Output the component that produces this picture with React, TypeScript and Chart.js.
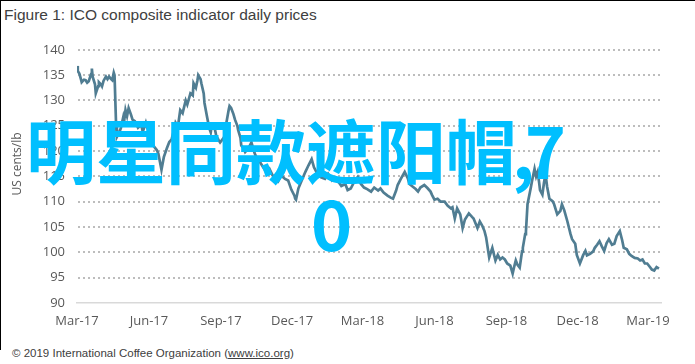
import React, { useEffect, useRef } from "react";
import { Chart, registerables } from "chart.js";

Chart.register(...registerables);

const chartTitle = "Figure 1: ICO composite indicator daily prices";
const yAxisTitle = "US cents/lb";
const footerPrefix = "© 2019 International Coffee Organization (";
const footerLink = "www.ico.org";
const footerSuffix = ")";
const overlayLine1 = "明星同款遮阳帽,7";
const overlayLine2 = "0";

// days since 1 Mar 2017
const tickDays = [0, 92, 184, 275, 365, 457, 549, 640, 730];
const tickLabels = ["Mar-17", "Jun-17", "Sep-17", "Dec-17", "Mar-18", "Jun-18", "Sep-18", "Dec-18", "Mar-19"];
const yMin = 90;
const yMax = 140;
const yStep = 5;

const days = [
  0, 1, 3, 5, 6, 9, 11, 13, 15, 18, 19, 20, 23, 24, 27, 28, 31, 32, 34, 37, 39, 41, 43, 45, 47, 48,
  50, 51, 54, 56, 59, 60, 62, 64, 66, 69, 71, 74, 75, 78, 82, 84, 85, 88, 90, 92, 94, 98, 102, 104,
  108, 111, 115, 118, 121, 124, 126, 129, 132, 135, 139, 141, 145, 148, 149, 152, 154, 155, 158, 159,
  162, 163, 166, 169, 171, 172, 175, 177, 178, 181, 183, 186, 188, 190, 191, 194, 195, 197, 200, 202,
  205, 206, 209, 210, 213, 215, 219, 223, 227, 231, 234, 238, 242, 246, 250, 254, 257, 261, 266, 270,
  274, 278, 279, 280, 283, 287, 292, 296, 300, 303, 308, 312, 317, 321, 326, 330, 334, 338, 343, 346,
  350, 354, 359, 363, 367, 371, 376, 380, 385, 388, 392, 397, 401, 404, 408, 410, 414, 419, 423, 425,
  429, 433, 436, 439, 444, 448, 452, 454, 457, 461, 465, 470, 474, 478, 480, 483, 486, 490, 493, 496,
  501, 505, 507, 512, 515, 518, 521, 523, 527, 531, 535, 538, 541, 544, 547, 550, 554, 557, 559, 561,
  563, 566, 569, 570, 573, 574, 576, 580, 582, 585, 587, 589, 591, 592, 595, 597, 599, 601, 604, 608,
  610, 614, 618, 620, 623, 627, 631, 633, 637, 639, 643, 647, 650, 652, 656, 660, 662, 665, 668, 671,
  674, 677, 680, 684, 687, 690, 694, 697, 699, 703, 706, 709, 713, 717, 720, 723, 726, 729, 732, 735,
  738, 741, 744,
];

const prices = [
  136.8, 135.8, 135.3, 134.2, 133.6, 134.1, 134.0, 133.5, 133.8, 135.2, 136.3, 134.7, 133.2, 131.4, 132.8, 133.6, 133.1, 132.8, 133.9, 134.7, 134.2, 134.7, 134.3, 134.0, 135.5, 135.0,
  125.0, 122.8, 123.7, 124.5, 126.6, 125.6, 128.1, 126.9, 128.5, 127.2, 126.2, 125.9, 125.6, 124.6, 125.2, 123.9, 124.2, 125.6, 124.5, 124.0, 122.3, 121.0, 120.2, 119.5,
  116.3, 118.8, 120.6, 121.8, 122.3, 124.2, 125.6, 124.8, 128.1, 127.5, 130.0, 129.2, 131.4, 131.0, 133.4, 132.5, 134.0, 135.0, 134.2, 133.4,
  131.4, 129.5, 127.0, 124.6, 123.7, 124.8, 125.2, 123.8, 123.0, 122.2, 121.7, 122.3, 122.7, 124.6, 125.6, 128.2, 128.9, 128.5, 127.3, 126.2,
  125.0, 124.2, 122.6, 121.1, 120.5, 119.8, 120.5, 121.7, 119.6, 118.2, 117.8, 116.8, 115.9, 116.5, 115.2, 114.3, 114.0, 115.2, 114.5, 114.2,
  112.4, 111.2, 110.6, 110.4, 112.6, 114.1, 115.9, 117.2, 118.4, 116.8, 115.3, 114.8, 114.5, 115.5, 114.2, 114.8, 114.0, 113.1, 113.5, 112.3,
  112.6, 113.8, 114.9, 113.5, 112.8, 112.5, 112.0, 112.8, 112.2, 112.6, 111.8, 111.2, 110.8, 110.6, 112.2, 113.3, 114.5, 115.9, 114.6, 113.5,
  113.0, 112.5, 112.0, 112.8, 113.3, 112.7, 112.0, 111.3, 110.4, 110.6, 110.0, 110.0, 109.2, 108.7, 108.9, 106.7, 108.7, 107.5, 104.8, 106.5,
  107.7, 107.0, 106.7, 104.8, 106.1, 105.3, 104.2, 103.0, 99.0, 100.9, 98.4, 99.5, 98.6, 99.0, 98.6, 97.8, 97.4, 95.8, 97.2, 98.4,
  97.6, 97.0, 100.2, 100.9, 103.6, 104.2, 109.5, 112.6, 114.3, 116.5, 115.0, 115.9, 113.6, 112.3, 111.4, 113.7, 115.5, 113.0, 110.6, 110.1,
  109.5, 107.5, 108.2, 109.5, 108.3, 106.1, 103.6, 102.6, 101.7, 99.5, 97.8, 99.4, 100.3, 99.4, 99.7, 100.2, 100.9, 101.5, 102.2, 101.2,
  100.3, 101.8, 102.6, 101.5, 101.7, 103.2, 104.2, 102.4, 100.9, 100.6, 99.7, 99.3, 98.9, 98.8, 98.4, 98.6, 97.8, 97.8, 97.2, 96.6,
  96.4, 97.1, 96.8,
];

const dottedGridPlugin = {
  id: "dottedGrid",
  beforeDatasetsDraw(chart: any) {
    const { ctx, chartArea, scales } = chart;
    const y = scales.y;
    ctx.save();
    ctx.strokeStyle = "#bdbdbd";
    ctx.lineWidth = 2;
    ctx.setLineDash([2, 3]);
    y.ticks.forEach((t: any) => {
      if (t.value === yMin) return;
      const py = Math.round(y.getPixelForValue(t.value));
      ctx.beginPath();
      ctx.moveTo(chartArea.left + 1, py);
      ctx.lineTo(chartArea.right, py);
      ctx.stroke();
    });
    ctx.restore();
  },
};

export default function App() {
  const canvasRef = useRef<HTMLCanvasElement | null>(null);

  useEffect(() => {
    document.body.style.margin = "0";
    const canvas = canvasRef.current;
    if (!canvas) return;
    const chart = new Chart(canvas, {
      type: "line",
      data: {
        datasets: [
          {
            data: days.map((d, i) => ({ x: d, y: prices[i] })),
            borderColor: "#507d92",
            borderWidth: 2.7,
            pointRadius: 0,
            tension: 0,
            fill: false,
          },
        ],
      },
      options: {
        animation: false,
        responsive: false,
        maintainAspectRatio: false,
        layout: { padding: { top: 16, right: 17, left: 0, bottom: 0 } },
        plugins: { legend: { display: false }, tooltip: { enabled: false }, title: { display: false } },
        scales: {
          x: {
            type: "linear",
            min: 0,
            max: 747,
            afterBuildTicks: (scale: any) => {
              scale.ticks = tickDays.map((v) => ({ value: v }));
            },
            afterFit: (scale: any) => {
              scale.height = 30;
            },
            ticks: {
              autoSkip: false,
              maxRotation: 0,
              padding: 10,
              color: "#595959",
              font: { family: "Open Sans", size: 13 },
              callback: (v: any) => {
                const idx = tickDays.indexOf(Number(v));
                return idx >= 0 ? tickLabels[idx] : "";
              },
            },
            grid: { display: false, drawTicks: false },
            border: { display: true, color: "#d9d9d9", width: 1.5 },
          },
          y: {
            min: yMin,
            max: yMax,
            afterFit: (scale: any) => {
              scale.width = 77;
            },
            ticks: {
              stepSize: yStep,
              padding: 12,
              color: "#595959",
              font: { family: "Open Sans", size: 13 },
            },
            grid: { display: false, drawTicks: false },
            border: { display: false },
          },
        },
      },
      plugins: [dottedGridPlugin],
    });
    return () => chart.destroy();
  }, []);

  const line1Chars = Array.from(overlayLine1);

  return (
    <div
      style={{
        position: "relative",
        width: 695,
        height: 364,
        overflow: "hidden",
        background: "#ffffff",
        fontFamily: "'Liberation Sans', Arial, sans-serif",
      }}
    >
      <div
        style={{
          position: "absolute",
          left: 0,
          top: 0,
          width: 694,
          height: 349,
          borderLeft: "1px solid #000",
          borderTop: "1px solid #000",
        }}
      />
      <div
        style={{
          position: "absolute",
          left: 4,
          top: 6,
          fontSize: 15.5,
          color: "#404040",
          whiteSpace: "nowrap",
        }}
      >
        {chartTitle}
      </div>
      <canvas
        ref={canvasRef}
        width={680}
        height={303}
        style={{ position: "absolute", left: 0, top: 30, width: 680, height: 303 }}
      />
      <div
        style={{
          position: "absolute",
          left: 16,
          top: 164,
          transform: "translate(-50%, -50%) rotate(-90deg)",
          fontFamily: "'Open Sans', sans-serif",
          fontSize: 12,
          color: "#595959",
          whiteSpace: "nowrap",
        }}
      >
        {yAxisTitle}
      </div>
      <div
        style={{
          position: "absolute",
          left: 12,
          top: 347,
          fontSize: 11.5,
          color: "#404040",
          whiteSpace: "nowrap",
        }}
      >
        {footerPrefix}
        <span style={{ textDecoration: "underline" }}>{footerLink}</span>
        {footerSuffix}
      </div>
      <div
        style={{
          position: "absolute",
          left: 26,
          top: 114,
          fontFamily: "'Noto Sans CJK SC', sans-serif",
          fontWeight: 700,
          fontSize: 70,
          lineHeight: "70px",
          color: "#00bfff",
          whiteSpace: "nowrap",
        }}
      >
        {line1Chars.map((c, i) => (
          <span
            key={i}
            style={c === "," ? { marginLeft: -4, letterSpacing: -10 } : undefined}
          >
            {c}
          </span>
        ))}
      </div>
      <div
        style={{
          position: "absolute",
          left: 311,
          top: 186,
          fontFamily: "'Noto Sans CJK SC', sans-serif",
          fontWeight: 700,
          fontSize: 70,
          lineHeight: "70px",
          color: "#00bfff",
          whiteSpace: "nowrap",
        }}
      >
        {overlayLine2}
      </div>
    </div>
  );
}
